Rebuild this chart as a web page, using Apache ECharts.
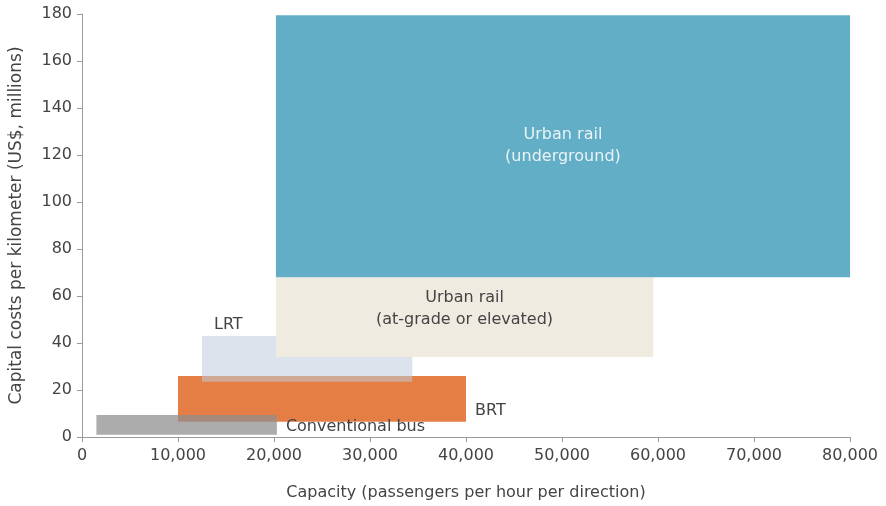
<!DOCTYPE html>
<html>
<head>
<meta charset="utf-8">
<title>Capital costs vs capacity</title>
<script src="https://cdn.jsdelivr.net/npm/echarts@6/dist/echarts.min.js"></script>
<style>
  html, body { margin: 0; padding: 0; background: #fff; }
  #chart { width: 886px; height: 506px; }
</style>
</head>
<body>
<div id="chart"></div>
<script>
// modes drawn back to front
const modes = ['BRT', 'Conventional bus', 'LRT', 'Urban rail\n(at-grade or elevated)', 'Urban rail\n(underground)']
const capacityFrom = [10000, 1500, 12500, 20200, 20200]
const capacityTo = [40000, 20300, 34400, 59500, 80000]
const costFrom = [6.5, 1, 23.5, 34, 68]
const costTo = [26, 9.4, 43, 68, 179.5]

const xTicks = [0, 10000, 20000, 30000, 40000, 50000, 60000, 70000, 80000]
const yTicks = [0, 20, 40, 60, 80, 100, 120, 140, 160, 180]

const fills = ['#e57e45', '#8f8f8f', '#bfcbdc', '#efebe0', '#62aec6']
const alphas = [1, 0.74, 0.54, 1, 1]
// where each label sits relative to its box
const labelPlace = ['right-low', 'right', 'above', 'inside', 'inside']
const labelColor = ['#444', '#444', '#444', '#444', '#eaf3f6']

const font = 'DejaVu Sans'

const chart = echarts.init(document.getElementById('chart'))

function renderBox(params, api) {
  const i = params.dataIndex
  const tl = api.coord([api.value(0), api.value(3)])
  const br = api.coord([api.value(1), api.value(2)])
  const w = br[0] - tl[0]
  const h = br[1] - tl[1]
  let tx, ty, align = 'center'
  if (labelPlace[i] === 'inside') {
    tx = tl[0] + w / 2
    ty = tl[1] + h / 2 - (i === 3 ? 8 : 0)
  } else if (labelPlace[i] === 'above') {
    tx = tl[0] + 12
    ty = tl[1] - 11
    align = 'left'
  } else if (labelPlace[i] === 'right-low') {
    tx = br[0] + 9
    ty = br[1] - 11
    align = 'left'
  } else {
    tx = br[0] + 9
    ty = tl[1] + h / 2 + 2
    align = 'left'
  }
  return {
    type: 'group',
    children: [
      {
        type: 'rect',
        shape: { x: tl[0], y: tl[1], width: w, height: h },
        style: { fill: fills[i], opacity: alphas[i] }
      },
      {
        type: 'text',
        z2: 10,
        style: {
          x: tx, y: ty, text: modes[i],
          fill: labelColor[i], font: '16px "' + font + '"',
          align: align, verticalAlign: 'middle', lineHeight: 22
        }
      }
    ]
  }
}

const boxData = modes.map((m, i) => [capacityFrom[i], capacityTo[i], costFrom[i], costTo[i]])

const option = {
  animation: false,
  grid: { left: 82, right: 36, top: 14, bottom: 69 },
  xAxis: {
    type: 'value',
    min: xTicks[0],
    max: xTicks[xTicks.length - 1],
    interval: 10000,
    name: 'Capacity (passengers per hour per direction)',
    nameLocation: 'middle',
    nameGap: 48,
    nameTextStyle: { color: '#444', fontSize: 16, fontFamily: font },
    axisLine: { show: true, lineStyle: { color: '#9a9a9a', width: 1 } },
    axisTick: { show: true, length: 5, lineStyle: { color: '#9a9a9a' } },
    axisLabel: {
      color: '#444', fontSize: 16, fontFamily: font, margin: 11,
      formatter: v => v.toLocaleString('en-US')
    },
    splitLine: { show: false }
  },
  yAxis: {
    type: 'value',
    min: yTicks[0],
    max: yTicks[yTicks.length - 1],
    interval: 20,
    name: 'Capital costs per kilometer (US$, millions)',
    nameLocation: 'middle',
    nameGap: 57,
    nameTextStyle: { color: '#444', fontSize: 17, fontFamily: font },
    axisLine: { show: true, lineStyle: { color: '#9a9a9a', width: 1 } },
    axisTick: { show: true, length: 5, lineStyle: { color: '#9a9a9a' } },
    axisLabel: { color: '#444', fontSize: 16, fontFamily: font, margin: 10 },
    splitLine: { show: false }
  },
  series: [
    {
      type: 'custom',
      renderItem: renderBox,
      encode: { x: [0, 1], y: [2, 3] },
      data: boxData,
      clip: false
    }
  ]
}

chart.setOption(option)
</script>
</body>
</html>
